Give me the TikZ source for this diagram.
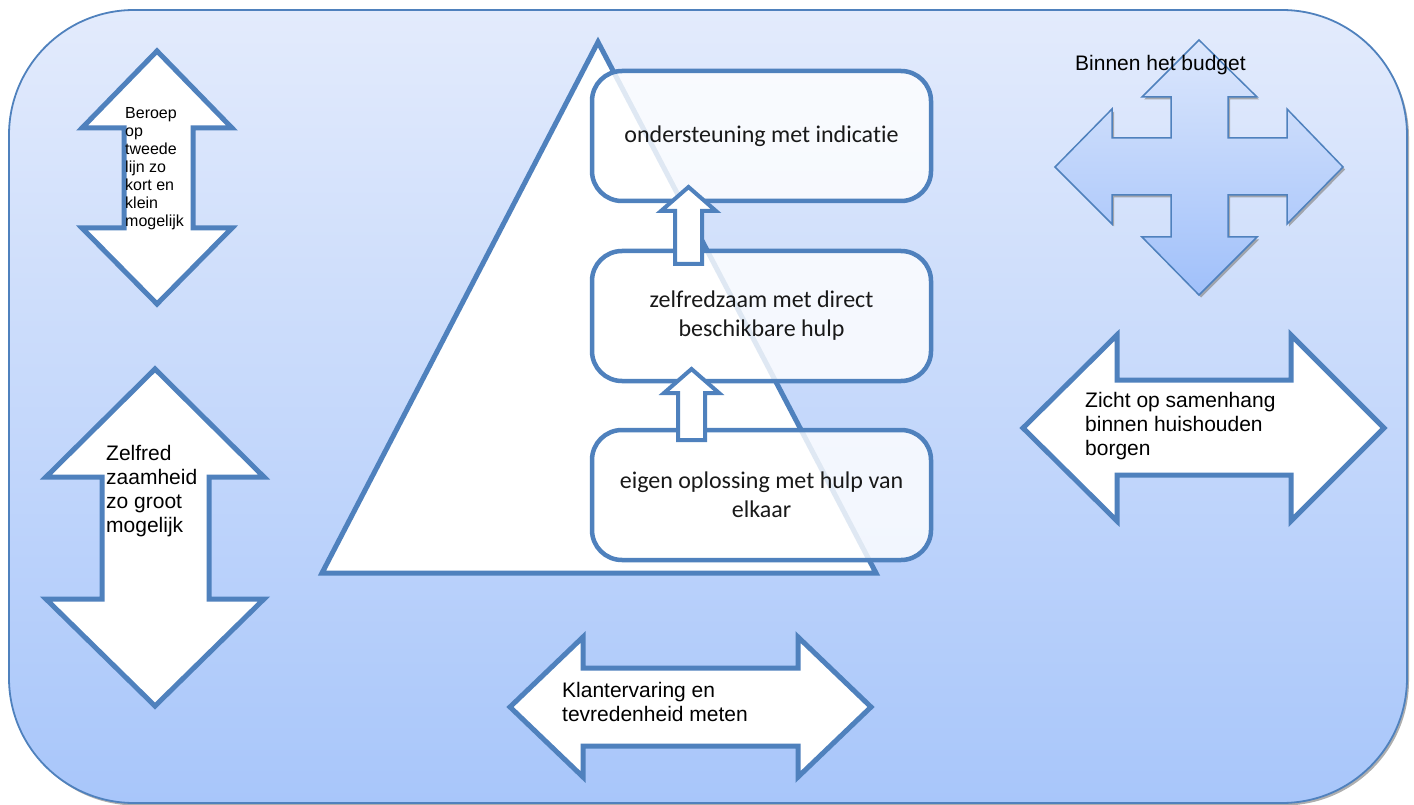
\documentclass[tikz,border=0pt]{standalone}
\usepackage{fontspec}
\setmainfont{Liberation Sans}
\newfontfamily\blokfont[Ligatures=NoCommon]{Carlito}
\usepackage{tikz}
\usetikzlibrary{shadows}

\definecolor{rand}{RGB}{79,129,189}
\definecolor{lichtblauw}{RGB}{227,235,252}
\definecolor{donkerblauw}{RGB}{168,198,250}
\definecolor{kruisboven}{RGB}{220,231,252}
\definecolor{kruisonder}{RGB}{160,192,250}

\begin{document}
\begin{tikzpicture}[x=1pt, y=-1pt,
    pijl/.style={draw=rand, line width=5pt, fill=white, line join=miter},
    kleinepijl/.style={draw=rand, line width=4pt, fill=white, line join=miter},
    blok/.style={draw=rand, line width=4.5pt, fill=white, fill opacity=0.82, text opacity=1,
        rounded corners=30pt, minimum width=339pt, minimum height=130pt, align=center,
        text=black!90, font=\blokfont\fontsize{24}{29}\selectfont},
    tekst/.style={anchor=north west, inner sep=0pt, align=left, font=\fontsize{21}{24}\selectfont},
    schaduw/.style={drop shadow={shadow xshift=2pt, shadow yshift=-2.5pt, fill=black!45, opacity=0.7}}]
        \useasboundingbox (0,0) rectangle (1414,805);

        % Achtergrond
        \shadedraw[schaduw, top color=lichtblauw, bottom color=donkerblauw, draw=rand,
            line width=1.8pt, rounded corners=125pt] (9,10) rectangle (1407,803);

        % Piramide
        \draw[rand, line width=5pt, fill=white, line join=miter]
            (598,42) -- (876,573) -- (322,573) -- cycle;

        % Blokken
        \node[blok] (top) at (761.5,136) {ondersteuning met indicatie};
        \node[blok] (midden) at (761.5,316) {zelfredzaam met direct\\beschikbare hulp};
        \node[blok] (basis) at (761.5,495) {eigen oplossing met hulp van\\elkaar};

        % Pijltjes tussen de blokken
        \draw[kleinepijl] (688.5,187) -- (716,211) -- (702,211) -- (702,264)
            -- (675,264) -- (675,211) -- (661,211) -- cycle;
        \draw[kleinepijl] (691.5,369) -- (719,393) -- (705,393) -- (705,440)
            -- (678,440) -- (678,393) -- (664,393) -- cycle;

        % Pijlen links
        \draw[pijl] (157,51) -- (232,128) -- (193,128) -- (193,228) -- (232,228)
            -- (157,304) -- (82,228) -- (124,228) -- (124,128) -- (82,128) -- cycle;
        \draw[pijl] (155,369) -- (264,477) -- (209,477) -- (209,599) -- (264,599)
            -- (155,706) -- (46,599) -- (102,599) -- (102,477) -- (46,477) -- cycle;

        % Pijlen rechts en onder
        \draw[pijl] (1023,428) -- (1117,335) -- (1117,380) -- (1291,380) -- (1291,335)
            -- (1384,428) -- (1291,521) -- (1291,475) -- (1117,475) -- (1117,521) -- cycle;
        \draw[pijl] (510,707) -- (583,637) -- (583,668) -- (798,668) -- (798,637)
            -- (871,707) -- (798,777) -- (798,746) -- (583,746) -- (583,777) -- cycle;

        % Kruispijl (budget)
        \shadedraw[schaduw, top color=kruisboven, bottom color=kruisonder, draw=rand, line width=1.5pt]
            (1199,40) -- (1257,97) -- (1228,97) -- (1228,138) -- (1287,138) -- (1287,109)
            -- (1343,167) -- (1287,224) -- (1287,195) -- (1228,195) -- (1228,237) -- (1257,237)
            -- (1199,295) -- (1142,237) -- (1171,237) -- (1171,195) -- (1112,195) -- (1112,224)
            -- (1055,167) -- (1112,109) -- (1112,138) -- (1171,138) -- (1171,97) -- (1142,97) -- cycle;

        % Teksten
        \node[tekst, font=\fontsize{16}{18}\selectfont] (beroep) at (125,107)
            {Beroep\\op\\tweede\\lijn zo\\kort en\\klein\\mogelijk};
        \node[tekst] (zelfred) at (106,445) {Zelfred\\zaamheid\\zo groot\\mogelijk};
        \node[tekst] (zicht) at (1085,392) {Zicht op samenhang\\binnen huishouden\\borgen};
        \node[tekst] (klant) at (562,682) {Klantervaring en\\tevredenheid meten};
        \node[tekst] (budget) at (1075,55) {Binnen het budget};
    \end{tikzpicture}
\end{document}
